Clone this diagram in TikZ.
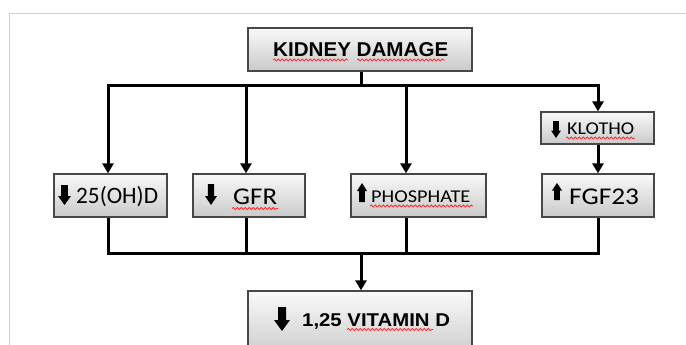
\documentclass[tikz,border=0pt]{standalone}
\usepackage{fontspec}
\setmainfont{Liberation Sans}
\newfontfamily\calib{Carlito}
\usetikzlibrary{arrows.meta,decorations.pathmorphing}
\tikzset{
  boxst/.style={draw=black!72, line width=1.2pt, top color=gray!5, bottom color=gray!42,
    inner sep=0pt, shape=rectangle},
  lbl/.style={inner sep=0pt, anchor=base west, text=black},
  conn/.style={line width=3pt, black},
  arr/.style={line width=3pt, black, -{Triangle[length=10pt,width=11pt]}},
  squig/.style={red!85, line width=0.75pt, decorate,
    decoration={snake, amplitude=1.1pt, segment length=4pt}},
  frame/.style={gray!35, line width=1pt}
}
% block arrow: #1 cx, #2 top y, #3 bottom y, #4 half head width, #5 half shaft width, #6 head height
\newcommand{\dnblk}[6]{\fill[black] (#1-#5,#2) -- (#1+#5,#2) -- (#1+#5,#3-#6) -- (#1+#4,#3-#6) -- (#1,#3) -- (#1-#4,#3-#6) -- (#1-#5,#3-#6) -- cycle;}
\newcommand{\upblk}[6]{\fill[black] (#1-#5,#3) -- (#1+#5,#3) -- (#1+#5,#2+#6) -- (#1+#4,#2+#6) -- (#1,#2) -- (#1-#4,#2+#6) -- (#1-#5,#2+#6) -- cycle;}
\begin{document}
\begin{tikzpicture}[x=1pt,y=-1pt]
\useasboundingbox (0,0) rectangle (686,345);
\clip (0,0) rectangle (686,345);
\fill[white] (0,0) rectangle (686,345);
\draw[frame] (9,350) -- (9,14) -- (690,14);

% boxes
\node[boxst, minimum width=224pt, minimum height=43pt] (kd) at (360,49.5) {};
\node[boxst, minimum width=113pt, minimum height=43pt] (ohd) at (110.5,195.5) {};
\node[boxst, minimum width=112pt, minimum height=43pt] (gfr) at (249,195.5) {};
\node[boxst, minimum width=135pt, minimum height=43pt] (pho) at (418.5,195.5) {};
\node[boxst, minimum width=113pt, minimum height=32pt] (klo) at (597.5,128) {};
\node[boxst, minimum width=112pt, minimum height=43pt] (fgf) at (598,195.5) {};
\node[boxst, minimum width=224pt, minimum height=69pt] (vitd) at (360,325.5) {};

% labels
\node[lbl] (tkd) at (273,56.5) {\fontsize{20}{22}\selectfont\bfseries\scalebox{1.03}[1]{KIDNEY DAMAGE}};
\node[lbl] (tohd) at (76,203.5) {\calib\fontsize{23.5}{25}\selectfont\scalebox{0.99}[1]{25(OH)D}};
\node[lbl] (tgfr) at (233,204.5) {\calib\fontsize{24}{26}\selectfont\scalebox{1.12}[1]{GFR}};
\node[lbl] (tpho) at (371,202.5) {\calib\fontsize{18}{20}\selectfont\scalebox{1.13}[1]{PHOSPHATE}};
\node[lbl] (tklo) at (567,134.5) {\calib\fontsize{18}{20}\selectfont\scalebox{1.12}[1]{KLOTHO}};
\node[lbl] (tfgf) at (569,204.5) {\calib\fontsize{24}{26}\selectfont\scalebox{1.14}[1]{FGF23}};
\node[lbl] (tvitd) at (302,326.5) {\fontsize{18.5}{20}\selectfont\bfseries\scalebox{1.1}[1]{1,25 VITAMIN D}};

% spell-check squiggles
\draw[squig] (273,60) -- (348,60);
\draw[squig] (357,60) -- (445,60);
\draw[squig] (232,208.5) -- (278,208.5);
\draw[squig] (370,206) -- (473,206);
\draw[squig] (566,138) -- (635,138);
\draw[squig] (347,329.5) -- (433,329.5);

% block arrows
\dnblk{64.5}{185}{205}{6.5}{3.3}{9}
\dnblk{211}{184}{205}{6}{3.2}{9}
\upblk{362}{183}{202}{5}{2.8}{8}
\dnblk{556}{121}{138}{5}{2.8}{7.5}
\upblk{557}{183}{200}{5}{2.8}{7.5}
\dnblk{282}{307}{331}{8}{4}{11}

% connectors
\coordinate (jt) at (361,86);
\coordinate (jtl) at (108,86);
\coordinate (jtr) at (598,86);
\coordinate (jb) at (361,253);
\coordinate (jbl) at (108,253);
\coordinate (jbr) at (598,253);
\coordinate (jg) at (246,86);
\coordinate (jp) at (406,86);

\draw[conn] (jt |- kd.south) -- (jt);
\draw[conn, line cap=rect] (jtl) -- (jtr);
\draw[arr] (jtl) -- (jtl |- ohd.north);
\draw[arr] (jg) -- (jg |- gfr.north);
\draw[arr] (jp) -- (jp |- pho.north);
\draw[arr] (jtr) -- (jtr |- klo.north);
\draw[arr] (jtr |- klo.south) -- (jtr |- fgf.north);

\draw[conn] (jbl |- ohd.south) -- (jbl);
\draw[conn] (jg |- gfr.south) -- (jg |- jb);
\draw[conn] (jp |- pho.south) -- (jp |- jb);
\draw[conn] (jbr |- fgf.south) -- (jbr);
\draw[conn, line cap=rect] (jbl) -- (jbr);
\draw[arr] (jb) -- (jb |- vitd.north);
\end{tikzpicture}
\end{document}
